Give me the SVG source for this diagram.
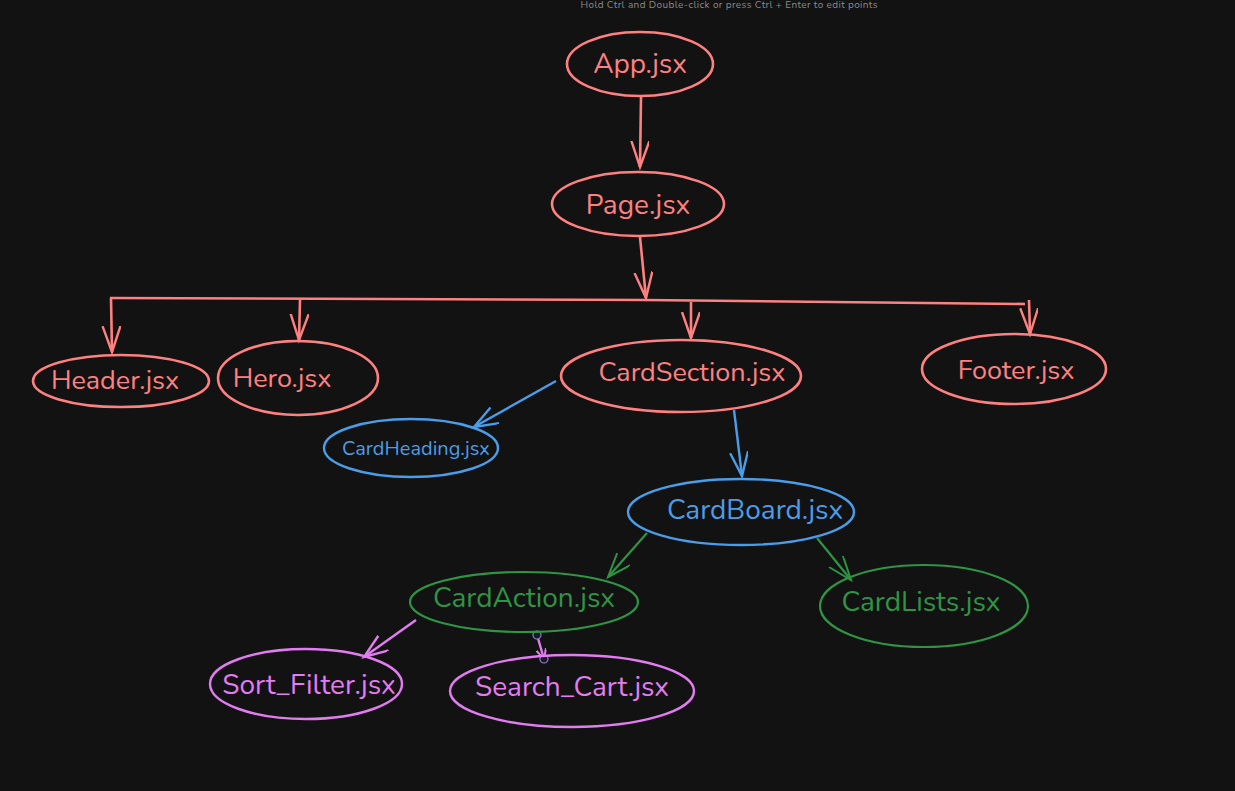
<svg xmlns="http://www.w3.org/2000/svg" width="1235" height="791" viewBox="0 0 1235 791">
<style>
text{font-family:"Nunito","Noto Sans","Open Sans",sans-serif;text-anchor:middle;dominant-baseline:central}
.r{stroke:#ff8080;fill:none;stroke-width:2.6}
.b{stroke:#4a9de8;fill:none;stroke-width:2.4}
.g{stroke:#2f9444;fill:none;stroke-width:2.2}
.p{stroke:#e27cf0;fill:none;stroke-width:2.4}
.tr{fill:#ff8080;font-size:28px}
.tb{fill:#4a9de8;font-size:28px}
.tg{fill:#2f9444;font-size:28px}
.tp{fill:#e27cf0;font-size:28px}
</style>
<defs>
<marker id="ar" markerUnits="userSpaceOnUse" markerWidth="30" markerHeight="22" refX="26" refY="9" orient="auto"><path d="M0,0 L26,9 L0,18" fill="none" stroke="#ff8080" stroke-width="2.4"/></marker>
<marker id="ab" markerUnits="userSpaceOnUse" markerWidth="30" markerHeight="22" refX="24" refY="9" orient="auto"><path d="M0,0 L24,9 L0,18" fill="none" stroke="#4a9de8" stroke-width="2.4"/></marker>
<marker id="ag" markerUnits="userSpaceOnUse" markerWidth="30" markerHeight="22" refX="24" refY="9" orient="auto"><path d="M0,0 L24,9 L0,18" fill="none" stroke="#2f9444" stroke-width="2"/></marker>
<marker id="ap" markerUnits="userSpaceOnUse" markerWidth="30" markerHeight="22" refX="24" refY="9" orient="auto"><path d="M0,0 L24,9 L0,18" fill="none" stroke="#e27cf0" stroke-width="2.4"/></marker>
<marker id="ap2" markerUnits="userSpaceOnUse" markerWidth="14" markerHeight="12" refX="10" refY="5" orient="auto"><path d="M0,0 L10,5 L0,10" fill="none" stroke="#e27cf0" stroke-width="2"/></marker>
</defs>
<rect width="1235" height="791" fill="#121212"/>
<text x="729" y="5" fill="#8a8a8a" style="font-size:10px" textLength="297">Hold Ctrl and Double-click or press Ctrl + Enter to edit points</text>

<g id="connectors">
<path class="r" d="M641,97 L640,167" marker-end="url(#ar)"/>
<path class="r" d="M640,237 L646,298" marker-end="url(#ar)"/>
<path class="r" d="M110,298 L645,300 L1025,304"/>
<path class="r" d="M111,298 L112,352" marker-end="url(#ar)"/>
<path class="r" d="M300,300 L299,340" marker-end="url(#ar)"/>
<path class="r" d="M691,302 L691,338" marker-end="url(#ar)"/>
<path class="r" d="M1029,300 L1030,334" marker-end="url(#ar)"/>
<path class="b" d="M556,381 L474,427" marker-end="url(#ab)"/>
<path class="b" d="M734,410 L742,476" marker-end="url(#ab)"/>
<path class="g" d="M647,533 L608,577" marker-end="url(#ag)"/>
<path class="g" d="M817,538 L851,580" marker-end="url(#ag)"/>
<path class="p" d="M416,620 L364,657" marker-end="url(#ap)"/>
<path class="p" d="M537,635 L544,659" marker-end="url(#ap2)"/>
<circle cx="537" cy="635" r="4" fill="#1a1a1a" stroke="#8a7fe6" stroke-width="1.2"/>
<circle cx="544" cy="659" r="4" fill="#1a1a1a" stroke="#8a7fe6" stroke-width="1.2"/>
</g>

<g id="app"><ellipse class="r" cx="640" cy="64" rx="73" ry="32"/><text class="tr" x="640" y="64">App.jsx</text></g>
<g id="page"><ellipse class="r" cx="638" cy="204" rx="86" ry="32"/><text class="tr" x="638" y="205">Page.jsx</text></g>
<g id="header"><ellipse class="r" cx="121" cy="381" rx="88" ry="26"/><text class="tr" x="115" y="380" style="font-size:27px">Header.jsx</text></g>
<g id="hero"><ellipse class="r" cx="298" cy="378" rx="80" ry="37"/><text class="tr" x="282" y="378" style="font-size:27px">Hero.jsx</text></g>
<g id="cardsection"><ellipse class="r" cx="681" cy="376" rx="120" ry="36"/><text class="tr" x="692" y="372" style="font-size:27px">CardSection.jsx</text></g>
<g id="footer"><ellipse class="r" cx="1014" cy="369" rx="92" ry="35"/><text class="tr" x="1016" y="370" style="font-size:27px">Footer.jsx</text></g>
<g id="cardheading"><ellipse class="b" cx="411" cy="448" rx="87" ry="29"/><text class="tb" x="416" y="448" style="font-size:20px">CardHeading.jsx</text></g>
<g id="cardboard"><ellipse class="b" cx="741" cy="512" rx="113" ry="33"/><text class="tb" x="755" y="510">CardBoard.jsx</text></g>
<g id="cardaction"><ellipse class="g" cx="524" cy="602" rx="114" ry="30"/><text class="tg" x="524" y="598">CardAction.jsx</text></g>
<g id="cardlists"><ellipse class="g" cx="924" cy="606" rx="104" ry="41"/><text class="tg" x="921" y="602">CardLists.jsx</text></g>
<g id="sortfilter"><ellipse class="p" cx="306" cy="684" rx="96" ry="35"/><text class="tp" x="309" y="685">Sort_Filter.jsx</text></g>
<g id="searchcart"><ellipse class="p" cx="572" cy="691" rx="122" ry="36"/><text class="tp" x="572" y="687">Search_Cart.jsx</text></g>
</svg>
